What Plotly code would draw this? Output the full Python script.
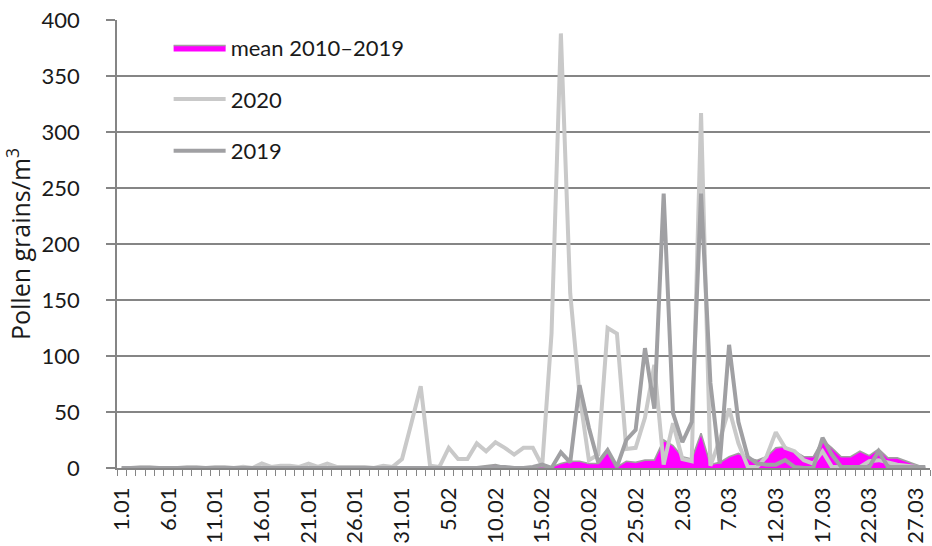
import plotly.graph_objects as go

# ---- categories (daily, 1 Jan – 28 Mar) ----
month_lengths = [("01", 31), ("02", 28), ("03", 28)]
dates = [f"{d}.{m}" for m, n in month_lengths for d in range(1, n + 1)]

tick_labels = ["1.01", "6.01", "11.01", "16.01", "21.01", "26.01", "31.01",
               "5.02", "10.02", "15.02", "20.02", "25.02", "2.03", "7.03",
               "12.03", "17.03", "22.03", "27.03"]

# ---- series values (pollen grains / m3) ----
mean_2010_2019 = [0, 0, 0, 0, 0, 0, 0, 0, 0, 0,
                  0, 0, 0, 0, 0, 0, 0, 0, 0, 0,
                  0, 0, 0, 0, 0, 0, 0, 0, 0, 0,
                  0, 0, 0, 0, 0, 0, 0, 0, 1, 2,
                  3, 1, 0, 0, 1, 1, 1, 4, 6, 6,
                  4, 4, 15, 1, 6, 5, 7, 7, 25, 20,
                  10, 8, 31, 3, 5, 10, 13, 9, 7, 10,
                  18, 19, 15, 10, 10, 25, 18, 10, 10, 15,
                  11, 17, 9, 9, 6, 3, 0]

y2020 = [0, 0, 1, 1, 0, 0, 0, 1, 1, 0,
         1, 1, 0, 1, 0, 4, 1, 2, 2, 1,
         4, 1, 4, 1, 1, 1, 1, 0, 2, 1,
         8, 40, 73, 2, 1, 18, 8, 8, 22, 15,
         23, 18, 12, 18, 18, 2, 120, 388, 156, 65,
         7, 12, 125, 120, 17, 18, 45, 92, 3, 40,
         8, 6, 317, 2, 25, 53, 22, 1, 1, 10,
         32, 18, 15, 7, 4, 15, 1, 1, 1, 1,
         6, 7, 5, 3, 2, 1, 0]

y2019 = [0, 0, 0, 0, 0, 0, 0, 0, 0, 0,
         0, 0, 0, 0, 0, 0, 0, 0, 0, 0,
         0, 0, 0, 0, 0, 0, 0, 0, 0, 0,
         0, 0, 0, 0, 0, 0, 0, 0, 0, 0,
         1, 1, 0, 0, 1, 3, 0, 14, 5, 74,
         36, 5, 16, 1, 25, 34, 107, 53, 245, 49,
         23, 41, 245, 76, 4, 110, 41, 10, 4, 3,
         3, 7, 1, 0, 0, 27, 12, 1, 1, 1,
         1, 15, 1, 1, 1, 1, 1]

x_idx = list(range(len(dates)))
tick_pos = [dates.index(t) for t in tick_labels]

FONT = "Lato"
TXT = "#1a1a1a"
GRID = "#858585"

fig = go.Figure()
fig.add_trace(go.Scatter(
    x=x_idx, y=mean_2010_2019, name="mean 2010–2019", mode="lines",
    fill="tozeroy", fillcolor="#FF00FF",
    line=dict(color="#A0A0A0", width=1.6), legendgroup="a",
    customdata=dates, hovertemplate="%{customdata}: %{y}<extra></extra>"))
fig.add_trace(go.Scatter(
    x=x_idx, y=y2020, name="2020", mode="lines",
    line=dict(color="#C9C9C9", width=4), legendgroup="b",
    customdata=dates, hovertemplate="%{customdata}: %{y}<extra></extra>"))
fig.add_trace(go.Scatter(
    x=x_idx, y=y2019, name="2019", mode="lines",
    line=dict(color="#A0A0A3", width=4), legendgroup="c",
    customdata=dates, hovertemplate="%{customdata}: %{y}<extra></extra>"))

fig.update_layout(
    width=932, height=546,
    margin=dict(l=117, r=2, t=20, b=78),
    paper_bgcolor="white", plot_bgcolor="white",
    font=dict(family=FONT, size=22, color=TXT),
    showlegend=True,
    legend=dict(x=0.0635, y=0.985, xanchor="left", yanchor="top",
                bgcolor="rgba(0,0,0,0)", font=dict(size=22, color=TXT),
                tracegroupgap=20, itemwidth=52),
)
fig.update_xaxes(
    automargin=False,
    range=[-0.5, len(dates) - 0.5],
    tickmode="array", tickvals=tick_pos, ticktext=tick_labels,
    tickangle=-90, tickfont=dict(size=22, color=TXT),
    ticks="outside", ticklen=6, tickcolor="rgba(0,0,0,0)",
    ticklabelstandoff=3,
    minor=dict(ticks="outside", ticklen=6, tick0=-0.5, dtick=1,
               tickcolor=GRID, tickwidth=1.3, showgrid=False),
    showgrid=False, zeroline=False,
    showline=True, linecolor=GRID, linewidth=1.5,
)
fig.update_yaxes(
    automargin=True,
    range=[0, 400], dtick=50, tick0=0,
    tickfont=dict(size=22, color=TXT),
    ticks="outside", ticklen=9, tickcolor=GRID, tickwidth=1.5,
    ticklabelstandoff=22, ticklabeloverflow="allow",
    showgrid=True, gridcolor=GRID, gridwidth=1.5,
    zeroline=False, showline=True, linecolor=GRID, linewidth=1.5,
    title=dict(text="Pollen grains/m<sup>3</sup>",
               font=dict(family="Open Sans", size=25, color=TXT),
               standoff=10),
)

# remove the page body's default 8px margin so the figure fills the window
fig.write_html("out.html", config={"displayModeBar": False},
               post_script="document.body.style.margin='0';")
